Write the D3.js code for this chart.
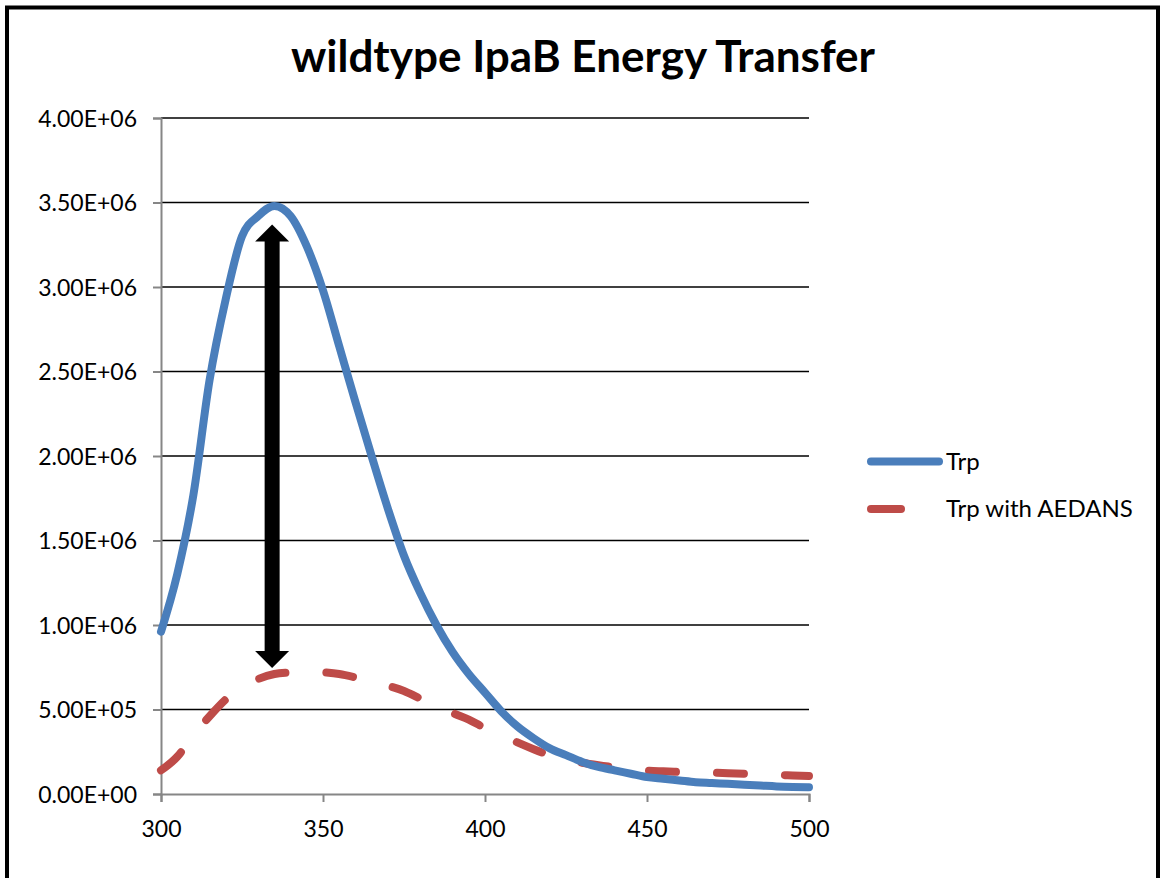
<!DOCTYPE html>
<html>
<head>
<meta charset="utf-8">
<script src="https://cdn.jsdelivr.net/npm/d3@7"></script>
<style>
  body { margin: 0; background: #fff; }
  text { font-family: Lato, "Open Sans", sans-serif; fill: #000; }
</style>
</head>
<body>
<div id="chart"></div>
<script>
// wavelength (nm), every 5 nm
var wavelength = [300, 305, 310, 315, 320, 325, 330, 335, 340, 345, 350, 355, 360, 365, 370, 375, 380, 385, 390, 395,
    400, 405, 410, 415, 420, 425, 430, 435, 440, 445, 450, 455, 460, 465, 470, 475, 480, 485, 490, 495, 500];

// fluorescence intensity
var trp = [0.96e6, 1.30e6, 1.77e6, 2.45e6, 2.93e6, 3.30e6, 3.42e6, 3.48e6, 3.42e6, 3.24e6,
    2.98e6, 2.65e6, 2.32e6, 2.00e6, 1.69e6, 1.41e6, 1.19e6, 1.00e6, 0.84e6, 0.71e6,
    0.60e6, 0.49e6, 0.40e6, 0.33e6, 0.27e6, 0.23e6, 0.19e6, 0.16e6, 0.14e6, 0.12e6,
    0.10e6, 0.09e6, 0.08e6, 0.07e6, 0.065e6, 0.06e6, 0.055e6, 0.05e6, 0.045e6, 0.042e6, 0.04e6];

var trpAedans = [0.14e6, 0.22e6, 0.35e6, 0.46e6, 0.56e6, 0.63e6, 0.68e6, 0.71e6, 0.72e6, 0.725e6,
    0.72e6, 0.71e6, 0.69e6, 0.665e6, 0.64e6, 0.61e6, 0.565e6, 0.53e6, 0.48e6, 0.44e6,
    0.39e6, 0.35e6, 0.305e6, 0.265e6, 0.23e6, 0.205e6, 0.185e6, 0.17e6, 0.158e6, 0.148e6,
    0.138e6, 0.134e6, 0.131e6, 0.128e6, 0.126e6, 0.123e6, 0.12e6, 0.117e6, 0.113e6, 0.11e6, 0.107e6];

var seriesNames = ["Trp", "Trp with AEDANS"];
var xTicks = [300, 350, 400, 450, 500];
var yTicks = [0, 0.5e6, 1e6, 1.5e6, 2e6, 2.5e6, 3e6, 3.5e6, 4e6];

// the quenching arrow drawn on the chart
var arrowAt = 334.3, arrowTop = 3.37e6, arrowBottom = 0.745e6;

var width = 1160,
    height = 878;

var x = d3.scaleLinear().domain([300, 500]).range([161, 809]);
var y = d3.scaleLinear().domain([0, 4e6]).range([794, 118]);

var svg = d3.select("#chart")
    .append("svg")
    .attr("width", width)
    .attr("height", height);

// outer frame
svg.append("rect")
    .attr("x", 7).attr("y", 7.5)
    .attr("width", 1151).attr("height", 880)
    .attr("fill", "none")
    .attr("stroke", "#000")
    .attr("stroke-width", 4);

svg.append("text")
    .attr("x", 583).attr("y", 72)
    .attr("text-anchor", "middle")
    .style("font-size", "44px")
    .style("font-weight", "bold")
    .text("wildtype IpaB Energy Transfer");

// gridlines
svg.append("g")
    .selectAll("line")
    .data(yTicks.slice(1))
    .enter().append("line")
    .attr("x1", x(300)).attr("x2", x(500))
    .attr("y1", function (d) { return y(d); })
    .attr("y2", function (d) { return y(d); })
    .attr("stroke", "#000")
    .attr("stroke-width", 1.5);

var yAxis = svg.append("g")
    .attr("transform", "translate(" + x(300) + ",0)")
    .call(d3.axisLeft(y).tickValues(yTicks).tickSize(8).tickPadding(16)
        .tickFormat(function (d) { return d3.format(".2e")(d).replace("e", "E").replace(/E([+-])(\d)$/, "E$10$2"); }));

var xAxis = svg.append("g")
    .attr("transform", "translate(0," + y(0) + ")")
    .call(d3.axisBottom(x).tickValues(xTicks).tickSize(8).tickPadding(14));

[yAxis, xAxis].forEach(function (a) {
    a.select(".domain").attr("stroke", "#868686").attr("stroke-width", 2);
    a.selectAll(".tick line").attr("stroke", "#868686").attr("stroke-width", 2);
    a.selectAll("text").style("font-size", "23px").style("font-family", "Lato, sans-serif").attr("fill", "#000");
});
yAxis.selectAll("text").attr("dy", "0.35em");
xAxis.selectAll("text").attr("dy", "0.9em");

var line = d3.line()
    .x(function (d) { return x(d[0]); })
    .y(function (d) { return y(d[1]); })
    .curve(d3.curveMonotoneX);

svg.append("path")
    .datum(d3.zip(wavelength, trpAedans))
    .attr("d", line)
    .attr("fill", "none")
    .attr("stroke", "#BE4B48")
    .attr("stroke-width", 8)
    .attr("stroke-linecap", "round")
    .attr("stroke-dasharray", "27,41");

svg.append("path")
    .datum(d3.zip(wavelength, trp))
    .attr("d", line)
    .attr("fill", "none")
    .attr("stroke", "#4A7EBB")
    .attr("stroke-width", 8)
    .attr("stroke-linecap", "round");

// double-headed arrow
var ax = x(arrowAt), aTop = y(arrowTop), aBot = y(arrowBottom);
svg.append("rect")
    .attr("x", ax - 7.5).attr("y", aTop + 15)
    .attr("width", 15).attr("height", aBot - aTop - 30)
    .attr("fill", "#000");
svg.append("path")
    .attr("d", "M" + ax + "," + aTop + "L" + (ax + 17) + "," + (aTop + 17) + "L" + (ax - 17) + "," + (aTop + 17) + "Z")
    .attr("fill", "#000");
svg.append("path")
    .attr("d", "M" + ax + "," + aBot + "L" + (ax + 17) + "," + (aBot - 17) + "L" + (ax - 17) + "," + (aBot - 17) + "Z")
    .attr("fill", "#000");

// legend
var legend = svg.append("g");
var legendColors = ["#4A7EBB", "#BE4B48"];
seriesNames.forEach(function (name, i) {
    var ly = 461.5 + i * 47.5;
    legend.append("line")
        .attr("x1", 871).attr("x2", i === 0 ? 939 : 901)
        .attr("y1", ly).attr("y2", ly)
        .attr("stroke", legendColors[i])
        .attr("stroke-width", 8)
        .attr("stroke-linecap", "round");
    legend.append("text")
        .attr("x", 946).attr("y", ly)
        .attr("dy", "0.35em")
        .style("font-size", "24px")
        .text(name);
});
</script>
</body>
</html>
